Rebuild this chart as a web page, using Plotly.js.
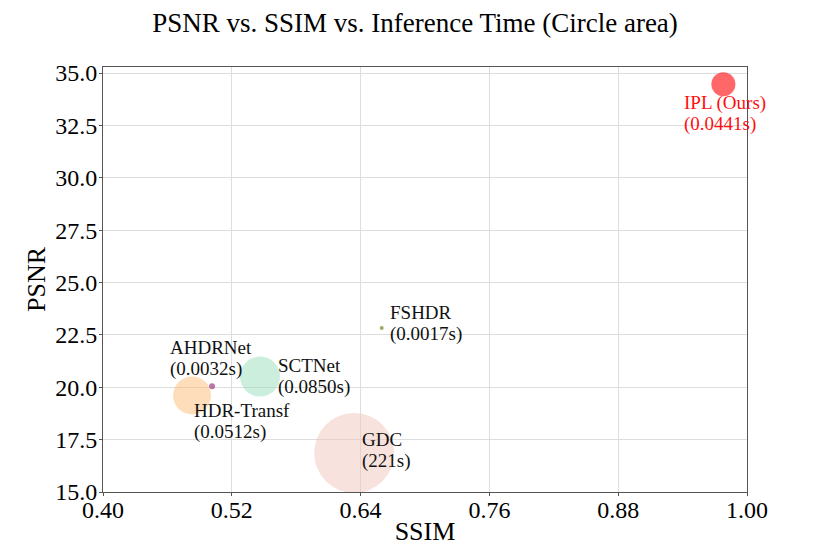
<!DOCTYPE html>
<html>
<head>
<meta charset="utf-8">
<script src="https://cdn.plot.ly/plotly-3.0.1.min.js"></script>
<style>html,body{margin:0;padding:0;background:#fff;}#chart{width:830px;height:554px;}</style>
</head>
<body>
<div id="chart"></div>
<script>
// Data
const methods = ["IPL (Ours)", "FSHDR", "AHDRNet", "HDR-Transf", "SCTNet", "GDC"];
const ssim = [0.978, 0.6597, 0.5016, 0.483, 0.5463, 0.634];
const psnr = [34.47, 22.83, 20.05, 19.61, 20.51, 16.86];
const timeLabels = ["0.0441s", "0.0017s", "0.0032s", "0.0512s", "0.0850s", "221s"];
const xTicks = [0.40, 0.52, 0.64, 0.76, 0.88, 1.00];
const xTickText = ["0.40", "0.52", "0.64", "0.76", "0.88", "1.00"];
const yTicks = [15, 17.5, 20, 22.5, 25, 27.5, 30, 32.5, 35];
const yTickText = ["15.0", "17.5", "20.0", "22.5", "25.0", "27.5", "30.0", "32.5", "35.0"];

// Styles
const markerSizes = [24, 4, 6, 38, 40, 80];
const markerColors = ["rgb(255,38,42)", "rgb(130,130,30)", "rgb(160,60,130)",
  "rgba(253,185,115,0.7)", "rgba(150,220,185,0.7)", "rgba(238,195,185,0.7)"];
const labelColors = ["#ff1010", "#111", "#111", "#111", "#111", "#111"];
const labelShift = [[-41, -6], [6, 28], [-44, 51], [0, -3], [16, 24], [6, 26]];
const lineGap = 21;

const font = "Liberation Serif, Times New Roman, serif";

const trace = {
  type: "scatter", mode: "markers",
  x: ssim, y: psnr,
  marker: {size: markerSizes, color: markerColors, line: {width: 0}},
  hoverinfo: "skip", showlegend: false, cliponaxis: false
};

const annotations = [];
methods.forEach((m, i) => {
  [m, "(" + timeLabels[i] + ")"].forEach((line, k) => {
    annotations.push({
      x: ssim[i], y: psnr[i], xref: "x", yref: "y",
      text: line,
      showarrow: false, xanchor: "left", yanchor: "top", align: "left",
      xshift: labelShift[i][0], yshift: labelShift[i][1] - k * lineGap,
      font: {family: font, size: 19, color: labelColors[i]}
    });
  });
});

const layout = {
  width: 830, height: 554,
  margin: {l: 103, r: 83, t: 67, b: 62},
  paper_bgcolor: "#fff", plot_bgcolor: "#fff",
  title: {text: "PSNR vs. SSIM vs. Inference Time (Circle area)", x: 0.5, xanchor: "center", y: 0.977, yanchor: "top",
    font: {family: font, size: 27, color: "#000"}},
  xaxis: {
    range: [0.40, 1.00], tickvals: xTicks, ticktext: xTickText,
    showgrid: true, gridcolor: "#dddddd", gridwidth: 1, zeroline: false,
    showline: true, linecolor: "#555", linewidth: 1, mirror: true,
    ticks: "outside", ticklen: 3, tickcolor: "#555",
    ticklabelstandoff: -7,
    tickfont: {family: font, size: 24, color: "#000"},
    title: {text: "SSIM", font: {family: font, size: 26, color: "#000"}, standoff: 0}
  },
  yaxis: {
    range: [15, 35.29], tickvals: yTicks, ticktext: yTickText,
    showgrid: true, gridcolor: "#dddddd", gridwidth: 1, zeroline: false,
    showline: true, linecolor: "#555", linewidth: 1, mirror: true,
    ticks: "outside", ticklen: 3, tickcolor: "#555",
    ticklabelstandoff: -3,
    tickfont: {family: font, size: 24, color: "#000"},
    title: {text: "PSNR", font: {family: font, size: 26, color: "#000"}, standoff: 2}
  },
  annotations: annotations
};

Plotly.newPlot("chart", [trace], layout, {displayModeBar: false, staticPlot: true});
</script>
</body>
</html>
